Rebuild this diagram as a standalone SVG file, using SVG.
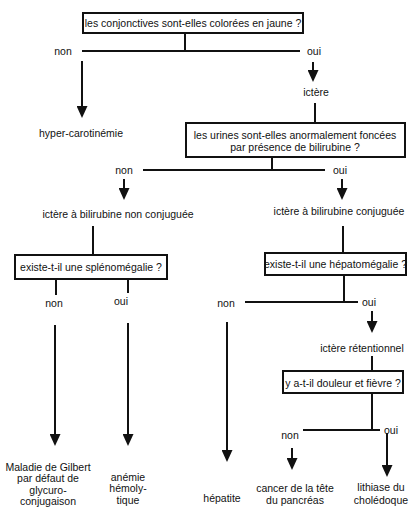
<svg xmlns="http://www.w3.org/2000/svg" width="418" height="512" viewBox="0 0 418 512">
<defs>
<style>
text{font-family:"Liberation Sans",Arial,sans-serif;font-size:10.5px;fill:#111;text-anchor:middle}
.box{fill:#fff;stroke:#111;stroke-width:2}
.ln{stroke:#111;stroke-width:2;fill:none}
.ar{stroke:#111;stroke-width:2;fill:none;marker-end:url(#ah)}
</style>
<marker id="ah" markerUnits="userSpaceOnUse" viewBox="0 0 12 11" markerWidth="12" markerHeight="11" refX="4" refY="5.5" orient="auto">
<path d="M0,0 L12,5.5 L0,11 Z" fill="#111"/>
</marker>
</defs>
<rect width="418" height="512" fill="#fff"/>

<g id="q1"><rect class="box" x="83" y="13" width="220" height="20"/><text x="193" y="27">les conjonctives sont-elles colorées en jaune ?</text></g>
<g id="ictere"><text x="316" y="96">ictère</text></g>
<g id="hyper"><text x="81" y="137">hyper-carotinémie</text></g>
<g id="q2"><rect class="box" x="186" y="123" width="219" height="34"/><text x="295" y="139">les urines sont-elles anormalement foncées</text><text x="295" y="151">par présence de bilirubine ?</text></g>
<g id="nonconj"><text x="118" y="218">ictère à bilirubine non conjuguée</text></g>
<g id="conj"><text x="339" y="215">ictère à bilirubine conjuguée</text></g>
<g id="q3"><rect class="box" x="15" y="255" width="152" height="24"/><text x="91" y="271">existe-t-il une splénomégalie ?</text></g>
<g id="q4"><rect class="box" x="265" y="253" width="141" height="22"/><text x="335.5" y="268">existe-t-il une hépatomégalie ?</text></g>
<g id="retent"><text x="362" y="352">ictère rétentionnel</text></g>
<g id="q5"><rect class="box" x="283" y="371" width="120" height="22"/><text x="343" y="387">y a-t-il douleur et fièvre ?</text></g>
<g id="gilbert"><text x="48" y="471">Maladie de Gilbert</text><text x="48" y="482">par défaut de</text><text x="48" y="493.5">glycuro-</text><text x="48" y="505">conjugaison</text></g>
<g id="anemie"><text x="128" y="481">anémie</text><text x="128" y="492">hémoly-</text><text x="128" y="504">tique</text></g>
<g id="hepatite"><text x="222" y="502">hépatite</text></g>
<g id="cancer"><text x="295" y="492">cancer de la tête</text><text x="295" y="504">du pancréas</text></g>
<g id="lithiase"><text x="381" y="491">lithiase du</text><text x="381" y="504">cholédoque</text></g>

<g id="labels">
<text x="63" y="55">non</text><text x="314" y="55">oui</text>
<text x="124" y="174">non</text><text x="340" y="174">oui</text>
<text x="54" y="307">non</text><text x="121" y="305">oui</text>
<text x="226" y="307">non</text><text x="369" y="306">oui</text>
<text x="290" y="439">non</text><text x="391" y="434">oui</text>
</g>

<g id="connectors">
<path class="ln" d="M185,33V51M82,51H300"/>
<path class="ar" d="M82,61V110"/>
<path class="ar" d="M313,62V74"/>
<path class="ln" d="M315,103V123"/>
<path class="ln" d="M272,157V170M143,170H325"/>
<path class="ar" d="M124,179V192"/>
<path class="ar" d="M342,179V192"/>
<path class="ln" d="M93,226V255"/>
<path class="ln" d="M343,226V253"/>
<path class="ln" d="M56,279V295"/>
<path class="ln" d="M128,279V293"/>
<path class="ar" d="M55,325V438"/>
<path class="ar" d="M128,323V438"/>
<path class="ln" d="M344,275V302M245,302H358"/>
<path class="ar" d="M227,322V454"/>
<path class="ar" d="M372,311V325"/>
<path class="ln" d="M372,356V371"/>
<path class="ln" d="M372,393V430M303,430H380"/>
<path class="ar" d="M292,448V462"/>
<path class="ar" d="M387,433V469"/>
</g>
</svg>
